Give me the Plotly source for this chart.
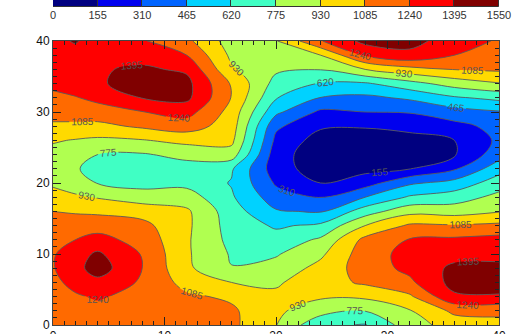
import plotly.graph_objects as go

# Sample grid of the field (x mostly every 4 units, y every 2 units)
x_vals = [0, 2, 4, 8, 12, 16, 20, 24, 28, 32, 36, 40]
y_vals = [0, 2, 4, 6, 8, 10, 12, 14, 16, 18, 20, 22, 24, 26, 28, 30, 32, 34, 36, 38, 40]

# one row per y value, bottom (y=0) to top (y=40)
z_grid = [
    [1130, 1140, 1150, 1130, 1140, 1120,  935,  650,  610,  860, 1000, 1040],
    [1150, 1170, 1190, 1150, 1150, 1110,  960,  840,  780,  920, 1120, 1120],
    [1170, 1220, 1260, 1180, 1110, 1060,  960,  950,  960, 1060, 1370, 1380],
    [1200, 1290, 1350, 1220, 1030,  930,  910, 1020, 1110, 1210, 1450, 1460],
    [1230, 1340, 1470, 1240,  960,  780,  830,  980, 1160, 1280, 1430, 1440],
    [1225, 1330, 1420, 1230,  950,  760,  760,  900, 1170, 1290, 1340, 1340],
    [1185, 1240, 1290, 1185,  950,  730,  680,  800, 1130, 1250, 1270, 1300],
    [1140, 1160, 1180, 1130,  960,  710,  600,  650,  930, 1110, 1100, 1120],
    [1085, 1070, 1055, 1025,  955,  690,  480,  450,  700,  880,  860,  920],
    [1000,  960,  920,  850,  850,  640,  380,  300,  465,  640,  700,  820],
    [ 900,  830,  770,  720,  730,  610,  290,  155,  240,  440,  520,  700],
    [ 855,  790,  720,  695,  710,  640,  220,   80,  110,  150,  290,  560],
    [ 880,  830,  775,  760,  820,  860,  220,   60,   40,   80,  140,  400],
    [ 945,  920,  900,  920,  975,  970,  270,   90,   60,  100,  155,  340],
    [1060, 1055, 1045, 1110, 1160, 1010,  340,  175,  170,  200,  260,  360],
    [1140, 1150, 1170, 1235, 1300, 1030,  500,  280,  310,  320,  400,  450],
    [1210, 1230, 1280, 1400, 1430, 1080,  630,  460,  430,  490,  600,  660],
    [1270, 1320, 1370, 1480, 1440, 1070,  720,  610,  600,  720,  840,  920],
    [1310, 1320, 1380, 1420, 1370,  950,  800,  780,  930, 1030, 1090, 1110],
    [1330, 1330, 1340, 1340, 1240,  900,  860,  930, 1260, 1360, 1240, 1180],
    [1350, 1410, 1310, 1255, 1120,  860,  920, 1230, 1440, 1440, 1330, 1220],
]

level_start = 155
level_end = 1395
level_step = 155
cbar_ticks = [0, 155, 310, 465, 620, 775, 930, 1085, 1240, 1395, 1550]

band_colors = [
    "#000080", "#0000EE", "#0064FF", "#00D2FF", "#40FFC4",
    "#B0FF50", "#FFDA00", "#FF6A00", "#FF0000", "#800000",
]
n = len(band_colors)
colorscale = [[i / (n - 1), c] for i, c in enumerate(band_colors)]

FONT = "Liberation Sans, Arial, sans-serif"
LINE_GREY = "rgb(90,90,90)"

fig = go.Figure()

fig.add_trace(
    go.Contour(
        x=x_vals,
        y=y_vals,
        z=z_grid,
        autocontour=False,
        contours=dict(
            start=level_start,
            end=level_end,
            size=level_step,
            coloring="fill",
            showlabels=True,
            labelfont=dict(size=10, color="#555555", family=FONT),
        ),
        colorscale=colorscale,
        line=dict(color=LINE_GREY, width=0.9, smoothing=1.0),
        showscale=False,
        hoverinfo="skip",
    )
)

# Colour key across the top: one block per contour band
band_lo = cbar_ticks[:-1]
band_hi = cbar_ticks[1:]
fig.add_trace(
    go.Bar(
        x=[(a + b) / 2 for a, b in zip(band_lo, band_hi)],
        y=[1] * len(band_lo),
        width=[b - a for a, b in zip(band_lo, band_hi)],
        marker=dict(color=band_colors, line=dict(color="#333333", width=1)),
        xaxis="x2",
        yaxis="y2",
        hoverinfo="skip",
    )
)

axis_common = dict(
    range=[0, 40],
    dtick=10,
    ticks="inside",
    ticklen=8,
    tickwidth=1,
    tickcolor="#222222",
    showline=True,
    linecolor="#444444",
    linewidth=1,
    mirror="allticks",
    showgrid=False,
    zeroline=False,
    automargin=False,
    tickfont=dict(size=12, color="#111111", family=FONT),
    minor=dict(ticks="inside", ticklen=4, dtick=1, tickcolor="#222222", showgrid=False),
)

fig.update_layout(
    width=524,
    height=334,
    margin=dict(l=53, r=25, t=0, b=9, autoexpand=False),
    paper_bgcolor="white",
    plot_bgcolor="white",
    showlegend=False,
    bargap=0,
    xaxis=dict(domain=[0, 1], anchor="y", **axis_common),
    yaxis=dict(domain=[0, 284 / 325], anchor="x", **axis_common),
    xaxis2=dict(
        domain=[0, 1],
        anchor="y2",
        range=[0, 1550],
        tickvals=cbar_ticks,
        ticks="",
        showline=False,
        showgrid=False,
        zeroline=False,
        automargin=False,
        tickfont=dict(size=11, color="#333333", family=FONT),
    ),
    yaxis2=dict(
        domain=[318 / 325, 1],
        anchor="x2",
        range=[0, 0.5],
        visible=False,
        automargin=False,
    ),
)

fig.write_html("out.html")
